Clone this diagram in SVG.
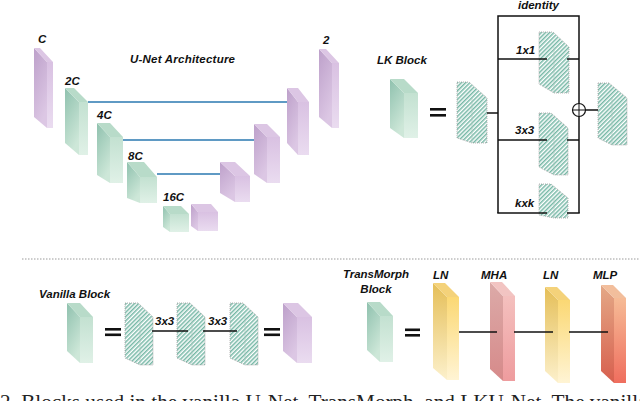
<svg xmlns="http://www.w3.org/2000/svg" width="640" height="401" viewBox="0 0 640 401">
<defs>
<linearGradient id="gS" x1="0" y1="0" x2="0.4" y2="1"><stop offset="0" stop-color="#8fc1ae"/><stop offset="1" stop-color="#cde7d8"/></linearGradient>
<linearGradient id="gF" x1="0" y1="0" x2="0" y2="1"><stop offset="0" stop-color="#c3e1d1"/><stop offset="1" stop-color="#e0f1e7"/></linearGradient>
<linearGradient id="pS" x1="0" y1="0" x2="0.4" y2="1"><stop offset="0" stop-color="#bda0ca"/><stop offset="1" stop-color="#dcc7e4"/></linearGradient>
<linearGradient id="pF" x1="0" y1="0" x2="0" y2="1"><stop offset="0" stop-color="#d9c1e2"/><stop offset="1" stop-color="#eadcf0"/></linearGradient>
<linearGradient id="yS" x1="0" y1="0" x2="0" y2="1"><stop offset="0" stop-color="#e5bf58"/><stop offset="1" stop-color="#fcf0cb"/></linearGradient>
<linearGradient id="yF" x1="0" y1="0" x2="0" y2="1"><stop offset="0" stop-color="#fbd874"/><stop offset="1" stop-color="#fff4d4"/></linearGradient>
<linearGradient id="mS" x1="0" y1="0" x2="0" y2="1"><stop offset="0" stop-color="#dcaaa8"/><stop offset="1" stop-color="#d68a8a"/></linearGradient>
<linearGradient id="mF" x1="0" y1="0" x2="0" y2="1"><stop offset="0" stop-color="#f4c0be"/><stop offset="1" stop-color="#ee9c9e"/></linearGradient>
<linearGradient id="oS" x1="0" y1="0" x2="0" y2="1"><stop offset="0" stop-color="#e4a886"/><stop offset="1" stop-color="#d75f4e"/></linearGradient>
<linearGradient id="oF" x1="0" y1="0" x2="0" y2="1"><stop offset="0" stop-color="#f6bb96"/><stop offset="1" stop-color="#ef6e5e"/></linearGradient>
<pattern id="hatch" width="3" height="3" patternUnits="userSpaceOnUse" patternTransform="rotate(45)"><rect width="3" height="3" fill="#ffffff"/><rect width="1.5" height="3" fill="#76b8a6"/></pattern>
</defs>
<style>
.t{font-family:"Liberation Sans",Arial,sans-serif;font-weight:bold;font-style:italic;font-size:11.5px;fill:#111}
.gs{fill:url(#gS)} .gf{fill:url(#gF)} .gt{fill:#b8dbc9}
.ps{fill:url(#pS)} .pf{fill:url(#pF)} .pt{fill:#dcc6e4}
.ys{fill:url(#yS)} .yf{fill:url(#yF)} .yt{fill:#f4d27a}
.ms{fill:url(#mS)} .mf{fill:url(#mF)} .mt{fill:#f2c4c2}
.os{fill:url(#oS)} .of{fill:url(#oF)} .ot{fill:#f2be9c}
.hb{fill:url(#hatch);stroke:#a0a0a0;stroke-width:0.8;stroke-dasharray:1 1}
.hi{fill:none;stroke:#a8c8be;stroke-width:0.6}
.skip{stroke:#2a78b0;stroke-width:1.4;fill:none}
.ln{stroke:#111;stroke-width:1.5;fill:none}
.eq{fill:#111}
</style>

<!-- U-Net -->
<text class="t" x="130" y="63" textLength="105">U-Net Architecture</text>
<g id="unet-c">
<polygon class="ps" points="34,48 47,62 47,128 34,117"/><polygon class="pt" points="34,48 40,48 53,62 47,62"/><polygon class="pf" points="47,62 53,62 53,128 47,128"/>
<text class="t" x="38" y="43">C</text></g>
<g id="unet-2c">
<polygon class="gs" points="65,88 79,102 79,155 65,143"/><polygon class="gt" points="65,88 74,88 88,102 79,102"/><polygon class="gf" points="79,102 88,102 88,155 79,155"/>
<text class="t" x="65" y="85">2C</text></g>
<g id="unet-4c">
<polygon class="gs" points="97,123 110,137 110,183 97,175"/><polygon class="gt" points="97,123 110,123 123,137 110,137"/><polygon class="gf" points="110,137 123,137 123,183 110,183"/>
<text class="t" x="97" y="119">4C</text></g>
<g id="unet-8c">
<polygon class="gs" points="127,162 140,177 140,203 127,198"/><polygon class="gt" points="127,162 144,162 157,177 140,177"/><polygon class="gf" points="140,177 157,177 157,203 140,203"/>
<text class="t" x="128" y="160">8C</text></g>
<g id="unet-16c">
<polygon class="gs" points="163,206 170,214 170,232 163,227"/><polygon class="gt" points="163,206 181,206 189,214 170,214"/><polygon class="gf" points="170,214 189,214 189,232 170,232"/>
<text class="t" x="163" y="201">16C</text></g>
<g id="unet-bottleneck-out">
<polygon class="ps" points="191,204 198,212 198,231 191,226"/><polygon class="pt" points="191,204 211,204 218,212 198,212"/><polygon class="pf" points="198,212 218,212 218,231 198,231"/></g>
<g id="unet-dec8">
<polygon class="ps" points="220,162 235,176 235,202 220,193"/><polygon class="pt" points="220,162 235,162 250,176 235,176"/><polygon class="pf" points="235,176 250,176 250,202 235,202"/></g>
<g id="unet-dec4">
<polygon class="ps" points="254,124 267,137 267,183 254,174"/><polygon class="pt" points="254,124 267,124 280,137 267,137"/><polygon class="pf" points="267,137 280,137 280,183 267,183"/></g>
<g id="unet-dec2">
<polygon class="ps" points="287,88 298,102 298,155 287,143"/><polygon class="pt" points="287,88 298,88 309,102 298,102"/><polygon class="pf" points="298,102 309,102 309,155 298,155"/></g>
<g id="unet-out">
<polygon class="ps" points="319,49 332,63 332,128 319,117"/><polygon class="pt" points="319,49 326,49 339,63 332,63"/><polygon class="pf" points="332,63 339,63 339,128 332,128"/>
<text class="t" x="323" y="44">2</text></g>

<!-- LK block -->
<text class="t" x="377" y="64">LK Block</text>
<g id="lk-block">
<polygon class="gs" points="390,79 404,93 404,138 390,128"/><polygon class="gt" points="390,79 404,79 418,93 404,93"/><polygon class="gf" points="404,93 418,93 418,138 404,138"/></g>
<g id="lk-eq"><rect class="eq" x="430" y="108" width="16" height="2.6"/><rect class="eq" x="430" y="114" width="16" height="2.6"/></g>
<g id="lk-in"><polygon class="hb" points="457,82 469,82 487,98 487,143 472,143 457,138"/><line class="hi" x1="472" y1="98" x2="472" y2="143"/></g>
<g id="lk-1x1"><polygon class="hb" points="539,32 553,32 569,47 569,93 554,93 539,84"/><line class="hi" x1="554" y1="47" x2="554" y2="93"/><text class="t" x="516" y="54">1x1</text></g>
<g id="lk-3x3"><polygon class="hb" points="539,113 551,113 568,128 568,175 554,175 539,167"/><line class="hi" x1="554" y1="128" x2="554" y2="175"/><text class="t" x="515" y="134">3x3</text></g>
<g id="lk-kxk"><polygon class="hb" points="539,184 551,184 568,198 568,218 554,218 539,215"/><line class="hi" x1="554" y1="198" x2="554" y2="218"/><text class="t" x="515" y="207">kxk</text></g>
<g id="lk-out"><polygon class="hb" points="598,83 609,83 627,98 627,145 612,145 598,138"/><line class="hi" x1="612" y1="98" x2="612" y2="145"/></g>
<g id="lk-sum"><circle cx="579" cy="110" r="6.5" fill="#fff" stroke="#111" stroke-width="1.2"/><line x1="572.5" y1="110" x2="585.5" y2="110" stroke="#111" stroke-width="1"/><line x1="579" y1="103.5" x2="579" y2="116.5" stroke="#111" stroke-width="1"/></g>
<text class="t" x="518" y="9">identity</text>

<!-- separator -->
<line x1="22" y1="259" x2="640" y2="259" stroke="#9a9a9a" stroke-width="1" stroke-dasharray="1.5 1.5"/>

<!-- Vanilla block -->
<text class="t" x="39" y="298">Vanilla Block</text>
<g id="vanilla-block">
<polygon class="gs" points="67,303 80,317 80,363 67,351"/><polygon class="gt" points="67,303 80,303 93,317 80,317"/><polygon class="gf" points="80,317 93,317 93,363 80,363"/></g>
<g id="v-eq1"><rect class="eq" x="105" y="328" width="16" height="2.6"/><rect class="eq" x="105" y="333.5" width="16" height="2.6"/></g>
<g id="v-h1"><polygon class="hb" points="125,303 138,303 153,317 153,365 140,365 125,358"/><line class="hi" x1="140" y1="317" x2="140" y2="365"/></g>
<g id="v-h2"><polygon class="hb" points="177,303 190,303 205,317 205,365 192,365 177,358"/><line class="hi" x1="192" y1="317" x2="192" y2="365"/><text class="t" x="155" y="325">3x3</text></g>
<g id="v-h3"><polygon class="hb" points="230,303 243,303 258,317 258,365 245,365 230,358"/><line class="hi" x1="245" y1="317" x2="245" y2="365"/><text class="t" x="208" y="325">3x3</text></g>
<g id="v-eq2"><rect class="eq" x="264" y="328" width="16" height="2.6"/><rect class="eq" x="264" y="333.5" width="16" height="2.6"/></g>
<g id="vanilla-out">
<polygon class="ps" points="283,303 297,317 297,363 283,351"/><polygon class="pt" points="283,303 298,303 312,317 297,317"/><polygon class="pf" points="297,317 312,317 312,363 297,363"/></g>

<!-- TransMorph block -->
<text class="t" x="376" y="278" text-anchor="middle">TransMorph</text>
<text class="t" x="376" y="293" text-anchor="middle">Block</text>
<g id="tm-block">
<polygon class="gs" points="367,302 380,316 380,362 367,350"/><polygon class="gt" points="367,302 380,302 393,316 380,316"/><polygon class="gf" points="380,316 393,316 393,362 380,362"/></g>
<g id="tm-eq"><rect class="eq" x="405" y="328.5" width="15" height="2.6"/><rect class="eq" x="405" y="334" width="15" height="2.6"/></g>
<g id="tm-ln1">
<polygon class="ys" points="433,283 447,297 447,380 433,368"/><polygon class="yt" points="433,283 445,283 459,297 447,297"/><polygon class="yf" points="447,297 459,297 459,380 447,380"/>
<text class="t" x="433" y="279">LN</text></g>
<g id="tm-mha">
<polygon class="ms" points="490,282 503,296 503,381 490,369"/><polygon class="mt" points="490,282 502,282 515,296 503,296"/><polygon class="mf" points="503,296 515,296 515,381 503,381"/>
<text class="t" x="481" y="279">MHA</text></g>
<g id="tm-ln2">
<polygon class="ys" points="545,287 558,300 558,383 545,371"/><polygon class="yt" points="545,287 557,287 570,300 558,300"/><polygon class="yf" points="558,300 570,300 570,383 558,383"/>
<text class="t" x="543" y="279">LN</text></g>
<g id="tm-mlp">
<polygon class="os" points="601,285 614,298 614,383 601,371"/><polygon class="ot" points="601,285 613,285 626,298 614,298"/><polygon class="of" points="614,298 626,298 626,383 614,383"/>
<text class="t" x="593" y="279">MLP</text></g>

<!-- connectors -->
<g id="connectors">
<line class="skip" x1="88" y1="102" x2="287" y2="102"/>
<line class="skip" x1="123" y1="140" x2="254" y2="140"/>
<line class="skip" x1="157" y1="174" x2="220" y2="174"/>
<polyline class="ln" points="487,113 498,113"/>
<polyline class="ln" points="498,213 498,16 579,16 579,103.5"/>
<polyline class="ln" points="579,116.5 579,213"/>
<line class="ln" x1="498" y1="59" x2="547" y2="59"/><line class="ln" x1="567" y1="59" x2="579" y2="59"/>
<line class="ln" x1="498" y1="140" x2="547" y2="140"/><line class="ln" x1="567" y1="140" x2="579" y2="140"/>
<line class="ln" x1="497.25" y1="213" x2="547" y2="213"/><line class="ln" x1="567" y1="213" x2="579.75" y2="213"/>
<line class="ln" x1="585.5" y1="110" x2="598" y2="110"/>
<line class="ln" x1="152" y1="331" x2="188" y2="331"/>
<line class="ln" x1="203" y1="331" x2="237" y2="331"/>
<line class="ln" x1="459" y1="332" x2="497" y2="332"/>
<line class="ln" x1="514" y1="332" x2="553" y2="332"/>
<line class="ln" x1="569" y1="332" x2="608" y2="332"/>
</g>

<text x="0" y="409" font-family="'Liberation Serif','Times New Roman',serif" font-size="21.2" fill="#222">2. Blocks used in the vanilla U-Net, TransMorph, and LKU-Net. The vanilla</text>
</svg>
